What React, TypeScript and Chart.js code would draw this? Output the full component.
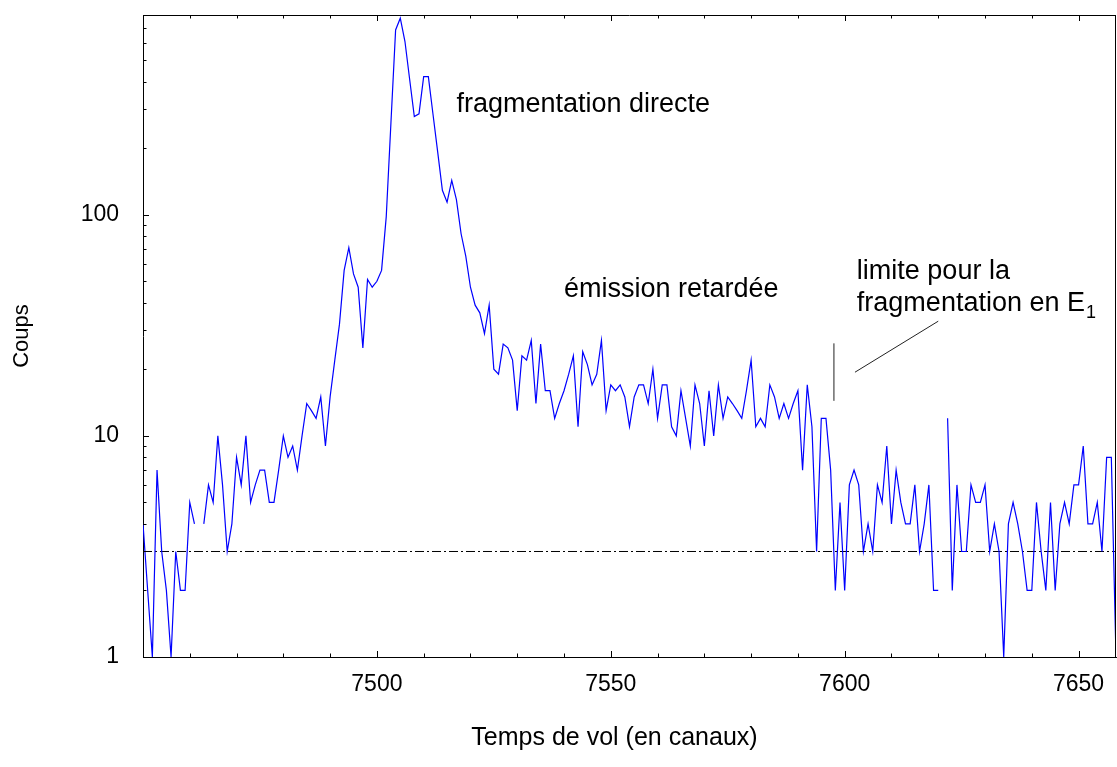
import React, { useEffect, useRef } from 'react';
import { Chart, registerables } from 'chart.js';

Chart.register(...registerables);

// ---- data ----
const firstChannel = 7450;
const counts: (number | null)[] = [
  4, 2, 1, 7, 3, 2, 1, 3, 2, 2, // 7450-7459
  5, 4, null, 4, 6, 5, 10, 6, 3, 4, // 7460-7469
  8, 6, 10, 5, 6, 7, 7, 5, 5, 7, // 7470-7479
  10, 8, 9, 7, 10, 14, 13, 12, 15, 9, // 7480-7489
  15, 22, 32, 56, 71, 54, 47, 25, 51, 47, // 7490-7499
  50, 56, 98, 260, 685, 774, 607, 410, 278, 286, // 7500-7509
  421, 421, 284, 192, 129, 114, 143, 117, 82, 65, // 7510-7519
  47, 39, 36, 29, 39, 20, 19, 26, 25, 22, // 7520-7529
  13, 23, 22, 27, 14, 26, 16, 16, 12, 14, // 7530-7539
  16, 19, 23, 11, 24, 21, 17, 19, 27, 13, // 7540-7549
  17, 16, 17, 15, 11, 15, 17, 17, 14, 20, // 7550-7559
  12, 17, 17, 11, 10, 16, 12, 9, 17, 14, // 7560-7569
  9, 16, 10, 17, 12, 15, 14, 13, 12, 16, // 7570-7579
  22, 11, 12, 11, 17, 15, 12, 14, 12, 14, // 7580-7589
  16, 7, 17, 11, 3, 12, 12, 7, 2, 5, // 7590-7599
  2, 6, 7, 6, 3, 4, 3, 6, 5, 9, // 7600-7609
  4, 7, 5, 4, 4, 6, 3, 4, 6, 2, // 7610-7619
  2, null, 12, 2, 6, 3, 3, 6, 5, 5, // 7620-7629
  6, 3, 4, 3, 1, 4, 5, 4, 3, 2, // 7630-7639
  2, 5, 3, 2, 5, 2, 4, 5, 4, 6, // 7640-7649
  6, 9, 4, 4, 5, 3, 8, 8, 1, // 7650-7658
];
const channels = counts.map((_, i) => firstChannel + i);

const xMin = 7450;
const xMax = 7658;
const yMin = 1;
const yMax = 800;
const backgroundLevel = 3;

const xLabelTicks = [7500, 7550, 7600, 7650];
const xMinorTicks = [7460, 7470, 7480, 7490, 7510, 7520, 7530, 7540, 7560, 7570, 7580, 7590, 7610, 7620, 7630, 7640];
const yLabelTicks = [1, 10, 100];
const yMinorTicks = [2, 3, 4, 5, 6, 7, 8, 9, 20, 30, 40, 50, 60, 70, 80, 90, 200, 300, 400, 500, 600, 700, 800];

const markerVertical = [
  { x: 7597.7, y: 14.4 },
  { x: 7597.7, y: 26.2 },
];
const markerDiagonal = [
  { x: 7602.2, y: 19.4 },
  { x: 7620.0, y: 33.0 },
];

const annotations = [
  { text: 'fragmentation directe', sub: '', x: 7517.0, y: 292 },
  { text: 'émission retardée', sub: '', x: 7540.0, y: 42.6 },
  { text: 'limite pour la', sub: '', x: 7602.6, y: 51 },
  { text: 'fragmentation en E', sub: '1', x: 7602.6, y: 36.7 },
];

const xTitle = 'Temps de vol (en canaux)';
const yTitle = 'Coups';

const FONT = '"Liberation Sans", Arial, sans-serif';

const framePlugin = {
  id: 'frameTicks',
  afterDraw(chart: any) {
    const { ctx, chartArea, scales } = chart;
    const { left, right, top, bottom } = chartArea;
    ctx.save();
    ctx.strokeStyle = '#000';
    ctx.lineWidth = 1;
    ctx.beginPath();
    ctx.moveTo(left, top + 0.5);
    ctx.lineTo(right, top + 0.5);
    ctx.moveTo(right - 0.5, top);
    ctx.lineTo(right - 0.5, bottom);
    ctx.stroke();
    const xs = scales.x;
    const ys = scales.y;
    const drawX = (v: number, len: number) => {
      const px = Math.round(xs.getPixelForValue(v)) + 0.5;
      ctx.moveTo(px, bottom);
      ctx.lineTo(px, bottom - len);
      ctx.moveTo(px, top);
      ctx.lineTo(px, top + len);
    };
    const drawY = (v: number, len: number) => {
      const py = Math.round(ys.getPixelForValue(v)) + 0.5;
      ctx.moveTo(left, py);
      ctx.lineTo(left + len, py);
    };
    ctx.beginPath();
    xLabelTicks.forEach((v) => drawX(v, 6));
    xMinorTicks.forEach((v) => drawX(v, 3.5));
    yLabelTicks.forEach((v) => drawY(v, 6));
    yMinorTicks.forEach((v) => drawY(v, 3.5));
    ctx.stroke();

    // x-axis title (slightly left of the plot centre, as in the original)
    ctx.fillStyle = '#000';
    ctx.font = `25px ${FONT}`;
    ctx.textAlign = 'center';
    ctx.textBaseline = 'middle';
    ctx.fillText(xTitle, (left + right) / 2 - 15, chart.height - 29);
    ctx.restore();
  },
};

const textPlugin = {
  id: 'annotText',
  afterDatasetsDraw(chart: any) {
    const { ctx, scales } = chart;
    ctx.save();
    ctx.fillStyle = '#000';
    ctx.textBaseline = 'alphabetic';
    ctx.textAlign = 'left';
    annotations.forEach((a) => {
      const px = scales.x.getPixelForValue(a.x);
      const py = scales.y.getPixelForValue(a.y);
      ctx.font = `27px ${FONT}`;
      ctx.fillText(a.text, px, py);
      if (a.sub) {
        const w = ctx.measureText(a.text).width;
        ctx.font = `18px ${FONT}`;
        ctx.fillText(a.sub, px + w + 1, py + 7);
      }
    });
    ctx.restore();
  },
};

export default function App() {
  const canvasRef = useRef<HTMLCanvasElement | null>(null);

  useEffect(() => {
    document.body.style.margin = '0';
    const canvas = canvasRef.current;
    if (!canvas) return;
    const chart = new Chart(canvas, {
      type: 'line',
      data: {
        datasets: [
          {
            label: 'Coups',
            data: channels.map((c, i) => ({ x: c, y: counts[i] })) as any,
            borderColor: '#0000ff',
            borderWidth: 1.2,
            pointRadius: 0,
            tension: 0,
            spanGaps: false,
            fill: false,
          },
          {
            label: 'fond',
            data: [
              { x: xMin, y: backgroundLevel },
              { x: xMax, y: backgroundLevel },
            ],
            borderColor: '#000',
            borderWidth: 1,
            borderDash: [9, 3, 2, 3],
            pointRadius: 0,
            fill: false,
          },
          {
            label: 'limite',
            data: markerVertical,
            borderColor: '#222',
            borderWidth: 1,
            pointRadius: 0,
            fill: false,
          },
          {
            label: 'pointer',
            data: markerDiagonal,
            borderColor: '#222',
            borderWidth: 1,
            pointRadius: 0,
            fill: false,
          },
        ],
      },
      options: {
        responsive: false,
        animation: false,
        devicePixelRatio: 1,
        layout: { padding: { top: 15, right: 1, left: 0, bottom: 0 } },
        plugins: {
          legend: { display: false },
          tooltip: { enabled: false },
        },
        scales: {
          x: {
            type: 'linear',
            position: 'bottom',
            min: xMin,
            max: xMax,
            grid: { display: false },
            border: { display: true, color: '#000', width: 1 },
            afterBuildTicks: (s: any) => {
              s.ticks = xLabelTicks.map((v) => ({ value: v }));
            },
            afterFit: (s: any) => {
              s.height = 110;
              s.paddingLeft = 0;
              s.paddingRight = 0;
            },
            ticks: {
              color: '#000',
              font: { family: FONT, size: 23 },
              padding: 6,
              autoSkip: false,
              maxRotation: 0,
              callback: (v: any) => String(v),
            },
            title: { display: false },
          },
          y: {
            type: 'logarithmic',
            position: 'left',
            min: yMin,
            max: yMax,
            grid: { display: false },
            border: { display: true, color: '#000', width: 1 },
            afterBuildTicks: (s: any) => {
              s.ticks = yLabelTicks.map((v) => ({ value: v }));
            },
            afterFit: (s: any) => {
              s.width = 143;
              s.paddingTop = 0;
              s.paddingBottom = 0;
            },
            ticks: {
              color: '#000',
              font: { family: FONT, size: 23 },
              padding: 16,
              autoSkip: false,
              callback: (v: any) => String(v),
            },
            title: {
              display: true,
              text: yTitle,
              color: '#000',
              font: { family: FONT, size: 22 },
              padding: { top: 9, bottom: 0 },
            },
          },
        },
      },
      plugins: [framePlugin, textPlugin],
    } as any);
    return () => chart.destroy();
  }, []);

  return (
    <canvas
      ref={canvasRef}
      width={1117}
      height={767}
      style={{ display: 'block', width: 1117, height: 767 }}
    />
  );
}
